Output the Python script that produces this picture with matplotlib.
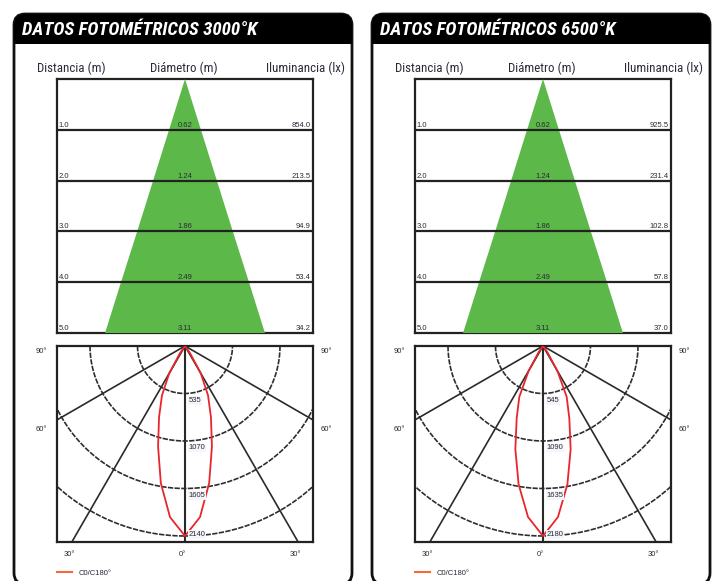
import numpy as np
import matplotlib
matplotlib.use("Agg")
import matplotlib.pyplot as plt
from matplotlib.patches import FancyBboxPatch, Rectangle, Polygon
from matplotlib.lines import Line2D
from matplotlib import font_manager

# ---------------- data ----------------
titles = ["DATOS FOTOMÉTRICOS 3000°K", "DATOS FOTOMÉTRICOS 6500°K"]
header_labels = ["Distancia (m)", "Diámetro (m)", "Iluminancia (lx)"]

distance_m = [1.0, 2.0, 3.0, 4.0, 5.0]
diameter_m = [0.62, 1.24, 1.86, 2.49, 3.11]
lux_3000 = [854.0, 213.5, 94.9, 53.4, 34.2]
lux_6500 = [925.5, 231.4, 102.8, 57.8, 37.0]

angles_deg = [0, 5, 10, 15, 20, 25, 30, 35, 40]
cd_3000 = [2140, 1935, 1568, 1172, 855, 614, 356, 100, 0]
cd_6500 = [2180, 1970, 1612, 1226, 883, 643, 330, 90, 0]

rings_3000 = [535, 1070, 1605, 2140]
rings_6500 = [545, 1090, 1635, 2180]

radial_angles = [30, 60]
angle_labels = {"90": "90°", "60": "60°", "30": "30°", "0": "0°"}
legend_label = "C0/C180°"

# ---------------- fonts ----------------
names = {f.name for f in font_manager.fontManager.ttflist}
narrow = None
for cand in ["Liberation Sans Narrow", "Arial Narrow", "Roboto Condensed", "DejaVu Sans Condensed"]:
    if cand in names:
        narrow = cand
        break
base = "Liberation Sans" if "Liberation Sans" in names else "DejaVu Sans"
if narrow is None:
    narrow = base
plt.rcParams['font.family'] = [base, 'DejaVu Sans']

W, H = 712, 581
fig = plt.figure(figsize=(W / 100, H / 100), dpi=100)
fig.patch.set_facecolor("white")

bg = fig.add_axes([0, 0, 1, 1], zorder=0)
bg.set_xlim(0, W)
bg.set_ylim(H, 0)
bg.axis("off")


def px_axes(x0, y0, x1, y1):
    return fig.add_axes([x0 / W, 1 - y1 / H, (x1 - x0) / W, (y1 - y0) / H], zorder=2)


TXT = "#2a2a38"
GREEN = "#5cb848"
RED = "#e8262b"
LEG = "#f26a3c"
FS = 5.5


def panel(ox, title, lux, cd, rings):
    # frame + title bar
    box = FancyBboxPatch((14 + ox, 14), 338, 570,
                         boxstyle="round,pad=0,rounding_size=11",
                         lw=2, ec="#111111", fc="white")
    bg.add_patch(box)
    bar = Rectangle((14 + ox, 14), 338, 30, fc="black", ec="none")
    bg.add_patch(bar)
    bar.set_clip_path(box)
    bg.text(22 + ox, 30, title, color="white", fontsize=13.6, family=[narrow, 'DejaVu Sans'],
            fontweight="bold", fontstyle="italic", va="center", ha="left")

    # header labels
    hf = dict(fontsize=9.3, color=TXT, va="center", family=[narrow, 'DejaVu Sans'])
    bg.text(37 + ox, 68.5, header_labels[0], ha="left", **hf)
    bg.text(184 + ox, 68.5, header_labels[1], ha="center", **hf)
    bg.text(345 + ox, 68.5, header_labels[2], ha="right", **hf)

    # ---------- cone table ----------
    ax = px_axes(57 + ox, 79, 313 + ox, 333)
    dist = np.array(distance_m)
    diam = np.array(diameter_m)
    half_w = 2.49
    ax.set_xlim(-half_w, half_w)
    ax.set_ylim(dist[-1], 0)
    ax.set_xticks([])
    ax.set_yticks([])
    for s in ax.spines.values():
        s.set_linewidth(1.6)
        s.set_color("#222222")
        s.set_zorder(2)
    xs = np.concatenate([[0], diam / 2, -diam[::-1] / 2])
    ys = np.concatenate([[0], dist, dist[::-1]])
    ax.add_patch(Polygon(np.column_stack([xs, ys]), closed=True,
                         fc=GREEN, ec="none", zorder=3))
    ax.hlines(dist[:-1], -half_w, half_w, colors="#222222", lw=1.6, zorder=4)
    for d, dm, lx in zip(dist, diam, lux):
        ax.text(-half_w + 0.03, d - 0.02, f"{d:.1f}", fontsize=FS, color=TXT,
                ha="left", va="bottom", zorder=5)
        ax.text(0, d - 0.02, f"{dm:.2f}", fontsize=FS, color=TXT,
                ha="center", va="bottom", zorder=5)
        ax.text(half_w - 0.05, d - 0.02, f"{lx:.1f}", fontsize=FS, color=TXT,
                ha="right", va="bottom", zorder=5)

    # ---------- polar diagram ----------
    pa = px_axes(57 + ox, 346, 313 + ox, 542)
    rmax = rings[-1] * 196 / 190
    xr = rmax * 128 / 196
    pa.set_xlim(-xr, xr)
    pa.set_ylim(-rmax, 0)
    pa.set_xticks([])
    pa.set_yticks([])
    for s in pa.spines.values():
        s.set_linewidth(1.6)
        s.set_color("#222222")
    t = np.radians(np.linspace(-90, 90, 361))
    for r in rings:
        pa.plot(r * np.sin(t), -r * np.cos(t), color="#2e2e2e", lw=1.2,
                ls=(0, (3.2, 0.8)), zorder=2)
    big = rmax * 3
    for a in radial_angles:
        for sgn in (-1, 1):
            ar = np.radians(sgn * a)
            pa.plot([0, big * np.sin(ar)], [0, -big * np.cos(ar)],
                    color="#2a2a2a", lw=1.2, zorder=2)
    pa.plot([0, 0], [0, -big], color="#2a2a2a", lw=1.5, zorder=2)

    ang = np.radians(np.array(angles_deg))
    I = np.array(cd, dtype=float)
    th = np.concatenate([-ang[::-1], ang[1:]])
    II = np.concatenate([I[::-1], I[1:]])
    pa.plot(II * np.sin(th), -II * np.cos(th), color=RED, lw=1.3, zorder=4)

    for i, r in enumerate(rings):
        last = i == len(rings) - 1
        pa.annotate(str(r), (0, -r), xytext=(2.5, 1 if last else -2.5),
                    textcoords="offset points", ha="left",
                    va="center" if last else "top", fontsize=FS, color=TXT, zorder=5,
                    bbox=dict(boxstyle="square,pad=0.1", fc="#f4f6fa", ec="none"))

    # angle labels
    tr = pa.transAxes
    lf = dict(transform=tr, fontsize=FS, color=TXT, va="center")
    pa.text(-0.04, 0.97, angle_labels["90"], ha="right", **lf)
    pa.text(1.03, 0.97, angle_labels["90"], ha="left", **lf)
    y60 = 1 - (xr / np.tan(np.radians(60))) / rmax - 0.05
    pa.text(-0.04, y60, angle_labels["60"], ha="right", **lf)
    pa.text(1.03, y60, angle_labels["60"], ha="left", **lf)
    x30 = rmax * np.tan(np.radians(30))
    btr = pa.get_xaxis_transform()
    for xx, lab in ((-x30, angle_labels["30"]), (0, angle_labels["0"]), (x30, angle_labels["30"])):
        pa.text(xx - 0.02 * xr, -0.065, lab, transform=btr, fontsize=FS, color=TXT,
                ha="center", va="center")

    handle = Line2D([], [], color=LEG, lw=1.5)
    pa.legend([handle], [legend_label], loc="center left",
              bbox_to_anchor=(0.0, -0.158), frameon=False, fontsize=FS,
              handlelength=2.0, handletextpad=0.8, borderpad=0, borderaxespad=0,
              labelcolor=TXT)


panel(0, titles[0], lux_3000, cd_3000, rings_3000)
panel(358, titles[1], lux_6500, cd_6500, rings_6500)

fig.savefig("out.png", dpi=100, facecolor="white")
